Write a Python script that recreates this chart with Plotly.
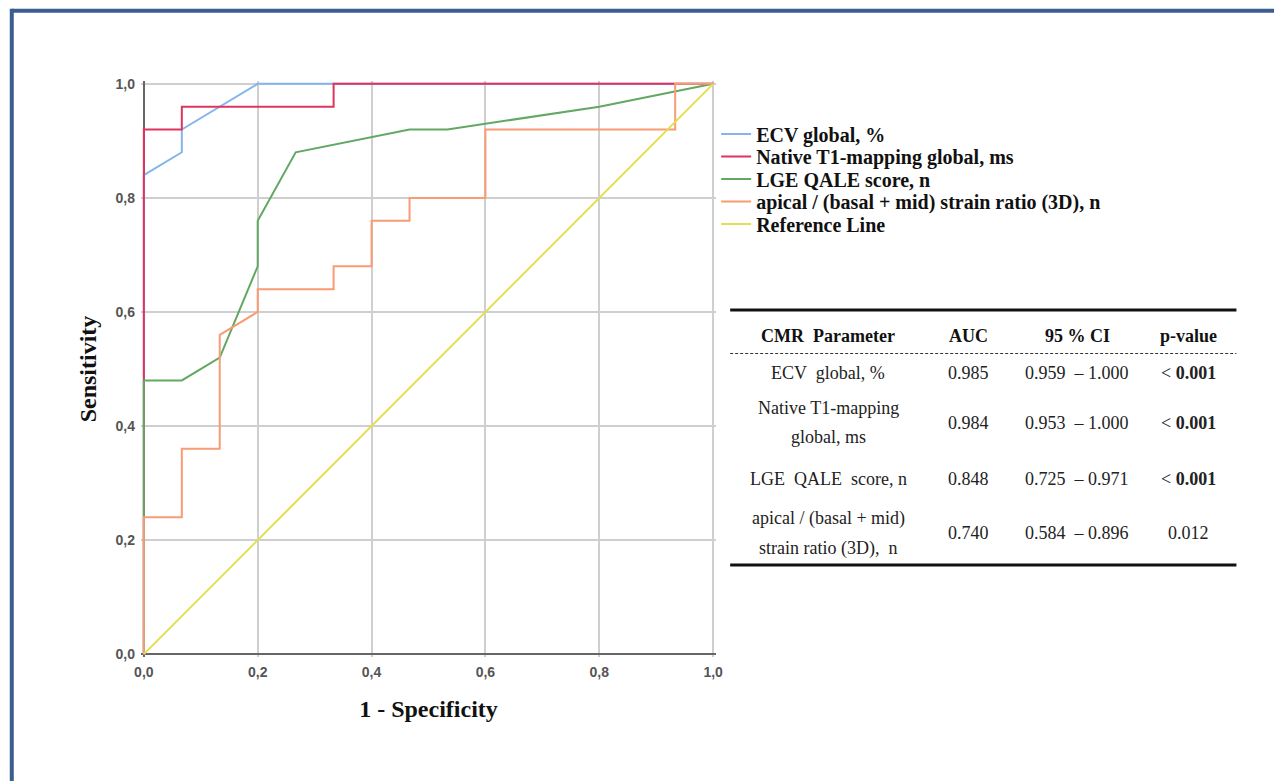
import plotly.graph_objects as go

# page body has an 8px margin, so the figure is drawn 8px smaller and shifted
OFF = 8
W, H = 1282 - OFF, 781 - OFF

# ---------------- data ----------------
series_names = [
    "ECV global, %",
    "Native T1-mapping global, ms",
    "LGE QALE score, n",
    "apical / (basal + mid) strain ratio (3D), n",
    "Reference Line",
]
series_colors = ["#86b4ec", "#dd3560", "#62a862", "#f79c74", "#e4de50"]

ecv_fpr = [0, 0, 0.0667, 0.0667, 0.2, 1.0]
ecv_tpr = [0, 0.84, 0.88, 0.92, 1.0, 1.0]

t1_fpr = [0, 0, 0.0667, 0.0667, 0.3333, 0.3333, 1.0]
t1_tpr = [0, 0.92, 0.92, 0.96, 0.96, 1.0, 1.0]

lge_fpr = [0, 0, 0.0667, 0.1333, 0.2, 0.2, 0.2667, 0.4667, 0.5333, 0.8, 1.0]
lge_tpr = [0, 0.48, 0.48, 0.52, 0.68, 0.76, 0.88, 0.92, 0.92, 0.96, 1.0]

apical_fpr = [0, 0, 0.0667, 0.0667, 0.1333, 0.1333, 0.2, 0.2, 0.3333, 0.3333,
              0.4, 0.4, 0.4667, 0.4667, 0.6, 0.6, 0.9333, 0.9333, 1.0]
apical_tpr = [0, 0.24, 0.24, 0.36, 0.36, 0.56, 0.60, 0.64, 0.64, 0.68,
              0.68, 0.76, 0.76, 0.80, 0.80, 0.92, 0.92, 1.0, 1.0]

ref_fpr = [0, 1]
ref_tpr = [0, 1]

tick_vals = [0, 0.2, 0.4, 0.6, 0.8, 1.0]

table_header = ["CMR  Parameter", "AUC", "95 % CI", "p-value"]
table_param = [["ECV  global, %"],
               ["Native T1-mapping", "global, ms"],
               ["LGE  QALE  score, n"],
               ["apical / (basal + mid)", "strain ratio (3D),  n"]]
table_auc = ["0.985", "0.984", "0.848", "0.740"]
table_ci = ["0.959  \u2013 1.000", "0.953  \u2013 1.000", "0.725  \u2013 0.971", "0.584  \u2013 0.896"]
table_p = ["< <b>0.001</b>", "< <b>0.001</b>", "< <b>0.001</b>", "0.012"]

# ---------------- geometry (screen pixels) ----------------
PX0, PX1 = 144 - OFF, 713 - OFF      # x=0, x=1
PY1, PY0 = 84 - OFF, 654 - OFF       # y=1, y=0
PAD = 0.005
sx = PX1 - PX0
sy = PY0 - PY1
left = PX0 - PAD * sx
right = PX1 + PAD * sx
top = PY1 - PAD * sy
bottom = PY0 + PAD * sy


def pxx(p):
    return (p - OFF - left) / (right - left)


def pxy(p):
    return (bottom - (p - OFF)) / (bottom - top)


SERIF = "Liberation Serif, Times New Roman, serif"
SANS = "Liberation Sans, Arial, sans-serif"

fig = go.Figure()

curves = [(ecv_fpr, ecv_tpr), (t1_fpr, t1_tpr), (lge_fpr, lge_tpr),
          (apical_fpr, apical_tpr), (ref_fpr, ref_tpr)]
legend_ids = ["legend", "legend2", "legend3", "legend4", "legend5"]
for (xs, ys), name, col, lid in zip(curves, series_names, series_colors, legend_ids):
    fig.add_trace(go.Scatter(
        x=xs, y=ys, mode="lines", name=name,
        line=dict(color=col, width=2),
        legend=lid, hoverinfo="x+y+name",
    ))

# legends: one per entry so row spacing matches the original
legend_rows_px = [134, 156.5, 179, 201.5, 224]
legend_layout = {}
for lid, ypx in zip(legend_ids, legend_rows_px):
    legend_layout[lid] = dict(
        x=pxx(716), xanchor="left", y=pxy(ypx), yanchor="middle",
        bgcolor="rgba(0,0,0,0)", borderwidth=0,
        font=dict(family=SERIF, size=20, color="#111", weight="bold"),
        itemwidth=30, traceorder="normal",
    )

annotations = []
shapes = []

# table
COLX = [828, 968, 1077, 1188]
for cx, txt in zip(COLX, table_header):
    annotations.append(dict(x=pxx(cx), y=pxy(336), xref="paper", yref="paper",
                            text="<b>%s</b>" % txt, showarrow=False,
                            xanchor="center", yanchor="middle",
                            font=dict(family=SERIF, size=18, color="#111")))
row_center = [373, 423, 479, 533]
row_lines = [[373], [408, 437], [479], [518, 548]]
for i in range(4):
    for txt, ly in zip(table_param[i], row_lines[i]):
        annotations.append(dict(x=pxx(COLX[0]), y=pxy(ly), xref="paper", yref="paper",
                                text=txt, showarrow=False, xanchor="center", yanchor="middle",
                                font=dict(family=SERIF, size=18, color="#222")))
    for cx, txt in zip(COLX[1:], [table_auc[i], table_ci[i], table_p[i]]):
        annotations.append(dict(x=pxx(cx), y=pxy(row_center[i]), xref="paper", yref="paper",
                                text=txt, showarrow=False, xanchor="center", yanchor="middle",
                                font=dict(family=SERIF, size=18, color="#222")))

shapes.append(dict(type="line", xref="paper", yref="paper",
                   x0=pxx(730), x1=pxx(1236), y0=pxy(310), y1=pxy(310),
                   line=dict(color="#111", width=3)))
shapes.append(dict(type="line", xref="paper", yref="paper",
                   x0=pxx(730), x1=pxx(1236), y0=pxy(353.5), y1=pxy(353.5),
                   line=dict(color="#333", width=1.2, dash="3px,2px")))
shapes.append(dict(type="line", xref="paper", yref="paper",
                   x0=pxx(730), x1=pxx(1236), y0=pxy(565), y1=pxy(565),
                   line=dict(color="#111", width=3)))

# outer blue frame (top and left edges visible)
shapes.append(dict(type="line", xref="paper", yref="paper",
                   x0=pxx(12), x1=pxx(1300), y0=pxy(11), y1=pxy(11),
                   line=dict(color="#3a5e92", width=4)))
shapes.append(dict(type="line", xref="paper", yref="paper",
                   x0=pxx(12), x1=pxx(12), y0=pxy(9), y1=pxy(800),
                   line=dict(color="#3a5e92", width=4)))

fig.update_layout(
    width=W, height=H,
    margin=dict(l=left, r=W - right, t=top, b=H - bottom, autoexpand=False),
    paper_bgcolor="white", plot_bgcolor="white",
    separators=",.",
    showlegend=True,
    annotations=annotations,
    shapes=shapes,
    **legend_layout,
)

fig.update_xaxes(
    range=[-PAD, 1 + PAD], tickvals=tick_vals, tickformat=".1f",
    showgrid=True, gridcolor="#cfcfcf", gridwidth=1.5,
    zeroline=True, zerolinecolor="#666", zerolinewidth=2,
    showline=False, ticks="", ticklabelstandoff=5,
    tickfont=dict(family=SANS, size=14, color="#555", weight="bold"),
    title=dict(text="<b>1 - Specificity</b>", standoff=21,
               font=dict(family=SERIF, size=24, color="#111")),
    automargin=False,
)
fig.update_yaxes(
    range=[-PAD, 1 + PAD], tickvals=tick_vals, tickformat=".1f",
    showgrid=True, gridcolor="#cfcfcf", gridwidth=1.5,
    zeroline=True, zerolinecolor="#666", zerolinewidth=2,
    showline=False, ticks="", ticklabelstandoff=5,
    tickfont=dict(family=SANS, size=14, color="#555", weight="bold"),
    title=dict(text="<b>Sensitivity</b>", standoff=12,
               font=dict(family=SERIF, size=24, color="#111")),
    automargin=False,
)

fig.write_html("out.html")
